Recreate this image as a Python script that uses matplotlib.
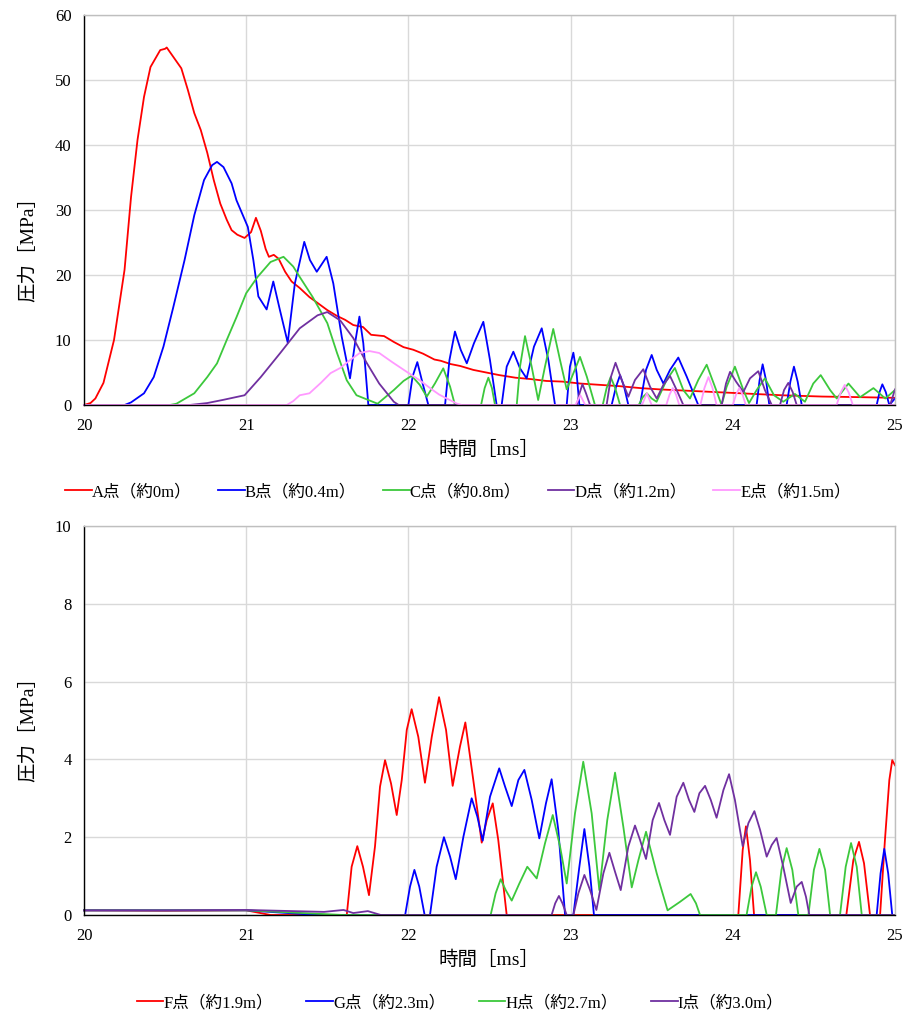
import matplotlib
matplotlib.use("Agg")
import matplotlib.pyplot as plt

# ---------------- data: (time [ms], pressure [MPa]) ----------------
A = [(20.00, 0), (20.04, 0.3), (20.07, 1.0), (20.12, 3.4), (20.185, 10), (20.25, 20.8), (20.29, 32),
     (20.33, 40.8), (20.37, 47.4), (20.41, 52), (20.47, 54.6), (20.50, 54.8), (20.51, 55),
     (20.555, 53.4), (20.60, 51.8), (20.64, 48.5), (20.68, 44.9), (20.72, 42.3), (20.76, 38.8),
     (20.80, 34.6), (20.84, 31), (20.88, 28.5), (20.91, 26.9), (20.945, 26.2), (20.99, 25.7),
     (21.03, 26.6), (21.06, 28.8), (21.09, 26.8), (21.12, 24), (21.14, 22.8), (21.17, 23.1),
     (21.20, 22.5), (21.24, 20.5), (21.28, 19), (21.33, 18), (21.39, 16.6), (21.44, 15.7),
     (21.50, 14.6), (21.56, 13.7), (21.61, 13.1), (21.66, 12.3), (21.72, 12), (21.77, 10.8),
     (21.85, 10.6), (21.91, 9.7), (21.97, 8.9), (22.03, 8.5), (22.09, 7.9), (22.16, 7.0),
     (22.20, 6.8), (22.26, 6.3), (22.32, 6.0), (22.40, 5.4), (22.48, 5.0), (22.56, 4.6),
     (22.66, 4.2), (22.75, 4.0), (22.85, 3.7), (22.95, 3.6), (23.06, 3.3), (23.18, 3.1),
     (23.30, 2.9), (23.43, 2.6), (23.55, 2.4), (23.80, 2.1), (24.05, 1.8), (24.30, 1.5),
     (24.55, 1.3), (24.80, 1.2), (25.00, 1.1)]

B = [(20.00, 0), (20.25, 0), (20.29, 0.4), (20.37, 1.8), (20.43, 4.3), (20.49, 9), (20.55, 15),
     (20.62, 22.3), (20.68, 29.2), (20.74, 34.6), (20.79, 36.9), (20.82, 37.4), (20.86, 36.6),
     (20.91, 34.1), (20.94, 31.5), (21.01, 27.4), (21.044, 22.3), (21.075, 16.7), (21.126, 14.7),
     (21.167, 19), (21.208, 14.6), (21.256, 9.6), (21.30, 18.7), (21.358, 25.1), (21.393, 22.3),
     (21.435, 20.5), (21.496, 22.8), (21.537, 18.7), (21.589, 10.5), (21.64, 4.1), (21.671, 9.5),
     (21.698, 13.6), (21.722, 9.5), (21.753, 0), (22.0, 0), (22.026, 4.4), (22.055, 6.6),
     (22.088, 3.3), (22.123, 0), (22.226, 0), (22.253, 6.9), (22.287, 11.3), (22.323, 8.46),
     (22.36, 6.41), (22.404, 9.49), (22.462, 12.8), (22.503, 6.9), (22.544, 0), (22.575, 0),
     (22.606, 5.9), (22.647, 8.2), (22.688, 5.64), (22.729, 4.1), (22.774, 8.97), (22.822, 11.8),
     (22.863, 6.9), (22.904, 0), (22.976, 0), (22.996, 5.9), (23.017, 8.05), (23.037, 4.87),
     (23.054, 0), (23.253, 0), (23.28, 2.8), (23.305, 4.6), (23.33, 2.8), (23.356, 0), (23.428, 0),
     (23.465, 5.4), (23.50, 7.7), (23.531, 5.4), (23.572, 3.3), (23.613, 5.4), (23.664, 7.3),
     (23.716, 4.36), (23.787, 0), (24.147, 0), (24.165, 3.8), (24.184, 6.26), (24.205, 3.8),
     (24.225, 0), (24.332, 0), (24.355, 3.6), (24.377, 5.9), (24.40, 3.6), (24.425, 0),
     (24.887, 0), (24.905, 2.0), (24.922, 3.18), (24.943, 2.0), (24.965, 0), (25.0, 1.0)]

C = [(20.00, 0), (20.53, 0), (20.57, 0.2), (20.68, 1.8), (20.76, 4.3), (20.82, 6.4), (20.88, 10),
     (20.94, 13.5), (21.00, 17.2), (21.07, 19.7), (21.15, 22), (21.23, 22.8), (21.29, 21.3),
     (21.33, 19.7), (21.41, 16.6), (21.50, 12.6), (21.56, 8), (21.62, 3.8), (21.68, 1.5),
     (21.74, 0.9), (21.81, 0.2), (21.91, 2.3), (21.97, 3.7), (22.02, 4.5), (22.07, 3.1),
     (22.113, 1.28), (22.164, 3.33), (22.215, 5.64), (22.257, 2.82), (22.287, 0), (22.448, 0),
     (22.47, 2.6), (22.493, 4.2), (22.515, 2.6), (22.534, 0), (22.668, 0), (22.688, 5.9),
     (22.719, 10.6), (22.76, 5.9), (22.80, 0.77), (22.842, 5.9), (22.893, 11.7), (22.935, 6.9),
     (22.976, 2.41), (23.017, 4.87), (23.058, 7.4), (23.10, 4.36), (23.15, 0), (23.198, 0),
     (23.222, 2.6), (23.247, 4.3), (23.275, 2.6), (23.305, 0), (23.42, 0), (23.445, 1.2),
     (23.47, 1.8), (23.50, 1.0), (23.53, 0.5), (23.592, 3.85), (23.643, 5.7), (23.695, 2.3),
     (23.736, 1.0), (23.787, 3.85), (23.839, 6.2), (23.89, 2.8), (23.931, 0), (23.962, 2.8),
     (24.013, 5.9), (24.065, 2.3), (24.10, 0.3), (24.147, 2.3), (24.198, 4.1), (24.254, 1.5),
     (24.311, 0.5), (24.383, 1.7), (24.445, 0.5), (24.496, 3.3), (24.542, 4.6), (24.60, 2.3),
     (24.641, 1.0), (24.713, 3.3), (24.785, 1.2), (24.867, 2.6), (24.94, 1.0), (25.0, 2.3)]

D = [(20.00, 0), (20.65, 0), (20.76, 0.3), (20.86, 0.8), (20.99, 1.5), (21.09, 4.3), (21.21, 8),
     (21.33, 11.8), (21.44, 13.8), (21.50, 14.3), (21.58, 13), (21.66, 10.3), (21.74, 6.6),
     (21.82, 3.3), (21.91, 0.5), (21.94, 0), (23.038, 0), (23.055, 1.8), (23.073, 3.2),
     (23.095, 1.8), (23.12, 0), (23.222, 0), (23.249, 4.36), (23.277, 6.5), (23.315, 3.85),
     (23.356, 1.28), (23.397, 3.85), (23.448, 5.5), (23.49, 2.8), (23.531, 1.0), (23.572, 3.1),
     (23.613, 4.46), (23.654, 2.3), (23.695, 0), (23.931, 0), (23.958, 3.3), (23.983, 5.1),
     (24.02, 3.6), (24.065, 2.0), (24.106, 4.1), (24.157, 5.2), (24.198, 2.3), (24.24, 0),
     (24.291, 0), (24.316, 2.3), (24.342, 3.4), (24.369, 2.0), (24.394, 0), (24.97, 0), (25.0, 2.4)]

E = [(20.00, 0), (21.25, 0), (21.29, 0.6), (21.33, 1.5), (21.39, 1.8), (21.46, 3.4), (21.52, 4.9),
     (21.58, 5.7), (21.64, 6.9), (21.70, 8), (21.76, 8.3), (21.82, 8), (21.90, 6.6), (21.99, 5.1),
     (22.07, 3.8), (22.15, 2.3), (22.19, 1.6), (22.30, 0.2), (22.33, 0), (23.03, 0), (23.06, 1.5),
     (23.09, 0), (23.44, 0), (23.47, 1.8), (23.50, 0), (23.59, 0), (23.61, 1.6), (23.63, 2.6),
     (23.65, 1.6), (23.67, 0), (23.80, 0), (23.825, 2.6), (23.85, 4.3), (23.875, 2.6), (23.90, 0),
     (24.00, 0), (24.02, 1.6), (24.04, 2.6), (24.06, 1.6), (24.08, 0), (24.64, 0), (24.665, 1.9),
     (24.69, 3.1), (24.715, 1.9), (24.74, 0), (25.0, 0)]

F = [(20.00, 0.12), (20.50, 0.11), (21.00, 0.12), (21.15, 0), (21.62, 0), (21.65, 1.24),
     (21.685, 1.77), (21.72, 1.24), (21.757, 0.51), (21.794, 1.76), (21.825, 3.30), (21.856, 3.98),
     (21.893, 3.38), (21.928, 2.57), (21.959, 3.47), (21.99, 4.76), (22.02, 5.29), (22.061, 4.58),
     (22.102, 3.40), (22.144, 4.58), (22.189, 5.60), (22.232, 4.76), (22.273, 3.32), (22.318, 4.33),
     (22.351, 4.95), (22.40, 3.47), (22.452, 1.86), (22.483, 2.44), (22.52, 2.87), (22.554, 1.93),
     (22.606, 0), (24.034, 0), (24.061, 1.67), (24.081, 2.28), (24.106, 1.41), (24.131, 0),
     (24.70, 0), (24.743, 1.41), (24.778, 1.88), (24.809, 1.33), (24.846, 0), (24.908, 0),
     (24.938, 1.93), (24.965, 3.47), (24.983, 3.98), (25.0, 3.85)]

G = [(20.00, 0.12), (20.50, 0.12), (21.00, 0.12), (21.44, 0), (21.98, 0), (22.01, 0.73),
     (22.037, 1.16), (22.067, 0.73), (22.10, 0), (22.133, 0), (22.174, 1.24), (22.219, 2.0),
     (22.257, 1.50), (22.292, 0.92), (22.339, 2.01), (22.39, 3.0), (22.425, 2.53), (22.458, 1.91),
     (22.503, 3.04), (22.56, 3.77), (22.596, 3.30), (22.637, 2.80), (22.678, 3.47), (22.715, 3.73),
     (22.76, 2.96), (22.807, 1.97), (22.848, 2.87), (22.883, 3.49), (22.924, 2.19), (22.966, 0),
     (23.017, 0), (23.054, 1.24), (23.085, 2.21), (23.116, 1.24), (23.144, 0), (24.887, 0),
     (24.911, 1.07), (24.934, 1.7), (24.958, 1.07), (24.983, 0), (25.0, 0)]

H = [(20.00, 0.12), (20.50, 0.12), (21.00, 0.12), (21.60, 0), (22.507, 0), (22.538, 0.56),
     (22.569, 0.92), (22.60, 0.64), (22.637, 0.37), (22.684, 0.81), (22.733, 1.24), (22.791, 0.94),
     (22.842, 1.84), (22.89, 2.57), (22.935, 1.76), (22.976, 0.81), (23.027, 2.61), (23.078, 3.94),
     (23.13, 2.61), (23.177, 0.64), (23.226, 2.44), (23.274, 3.66), (23.325, 2.27), (23.377, 0.71),
     (23.418, 1.41), (23.465, 2.14), (23.531, 1.07), (23.598, 0.12), (23.675, 0.34), (23.74, 0.54),
     (23.773, 0.30), (23.798, 0), (24.085, 0), (24.116, 0.73), (24.143, 1.1), (24.172, 0.73),
     (24.209, 0), (24.266, 0), (24.30, 1.16), (24.332, 1.72), (24.367, 1.16), (24.404, 0),
     (24.466, 0), (24.50, 1.16), (24.534, 1.70), (24.569, 1.16), (24.60, 0), (24.661, 0),
     (24.696, 1.24), (24.729, 1.85), (24.764, 1.24), (24.795, 0), (25.0, 0)]

I = [(20.00, 0.12), (20.50, 0.12), (21.00, 0.13), (21.48, 0.08), (21.60, 0.13), (21.66, 0.05),
     (21.75, 0.1), (21.83, 0), (22.883, 0), (22.905, 0.3), (22.928, 0.49), (22.95, 0.3),
     (22.976, 0), (23.017, 0), (23.048, 0.56), (23.085, 1.03), (23.12, 0.64), (23.159, 0.13),
     (23.202, 1.07), (23.239, 1.6), (23.274, 1.11), (23.309, 0.64), (23.356, 1.76), (23.397, 2.3),
     (23.428, 1.93), (23.465, 1.44), (23.506, 2.44), (23.545, 2.88), (23.578, 2.44), (23.613, 2.06),
     (23.654, 3.04), (23.695, 3.4), (23.73, 2.96), (23.763, 2.65), (23.794, 3.13), (23.829, 3.32),
     (23.864, 2.96), (23.90, 2.5), (23.942, 3.21), (23.977, 3.62), (24.013, 2.96), (24.061, 1.77),
     (24.096, 2.36), (24.133, 2.67), (24.168, 2.19), (24.209, 1.5), (24.24, 1.80), (24.27, 1.98),
     (24.311, 1.24), (24.357, 0.31), (24.394, 0.73), (24.425, 0.85), (24.451, 0.47), (24.472, 0),
     (25.0, 0)]

top_labels = ["A点（約0m）", "B点（約0.4m）", "C点（約0.8m）", "D点（約1.2m）", "E点（約1.5m）"]
bot_labels = ["F点（約1.9m）", "G点（約2.3m）", "H点（約2.7m）", "I点（約3.0m）"]
xlabel = "時間［ms］"
ylabel = "圧力［MPa］"
xticks = [20, 21, 22, 23, 24, 25]
top_yticks = [0, 10, 20, 30, 40, 50, 60]
bot_yticks = [0, 2, 4, 6, 8, 10]

# ---------------- style ----------------
FAM = ["Liberation Serif", "Noto Sans CJK JP", "DejaVu Sans"]
plt.rcParams["font.family"] = FAM
RED, BLUE, GREEN, PURPLE, PINK = "#ff0000", "#0000ff", "#3cc83c", "#7030a0", "#ff99ff"
LW = 1.3

fig = plt.figure(figsize=(9.06, 10.16), dpi=100)
W, Hpx = 906, 1016
def rect(l, t, r, b):
    return [l / W, 1 - b / Hpx, (r - l) / W, (b - t) / Hpx]

ax1 = fig.add_axes(rect(84, 15, 895, 405))
ax2 = fig.add_axes(rect(84, 526, 895, 915))

def style(ax, yticks):
    ax.set_xlim(20, 25)
    ax.set_ylim(yticks[0], yticks[-1])
    ax.set_xticks(xticks)
    ax.set_yticks(yticks)
    ax.grid(True, color="#d9d9d9", linewidth=1.0)
    ax.set_axisbelow(True)
    ax.tick_params(length=0, labelsize=12, pad=9)
    for s in ["top", "right"]:
        ax.spines[s].set_color("#bfbfbf")
        ax.spines[s].set_linewidth(1.0)
    for s in ["left", "bottom"]:
        ax.spines[s].set_color("black")
        ax.spines[s].set_linewidth(1.0)
    ax.set_xlabel(xlabel, fontsize=14, labelpad=5)

style(ax1, top_yticks)
style(ax2, bot_yticks)

def draw(ax, series, colors, labels):
    handles = []
    for s, c, lab in zip(series, colors, labels):
        t = [a for a, _ in s]
        p = [b for _, b in s]
        handles += ax.plot(t, p, color=c, linewidth=LW, label=lab, clip_on=False,
                           solid_joinstyle="round")
    return handles

l1 = draw(ax1, [A, B, C, D, E], [RED, BLUE, GREEN, PURPLE, PINK], top_labels)
l2 = draw(ax2, [F, G, H, I], [RED, BLUE, GREEN, PURPLE], bot_labels)

fig.text(28 / W, 1 - 245 / Hpx, ylabel, rotation=90, ha="center", va="center", fontsize=14)
fig.text(28 / W, 1 - 724 / Hpx, ylabel, rotation=90, ha="center", va="center", fontsize=14)

fig.legend(handles=l1, loc="center", bbox_to_anchor=(458 / W, 1 - 492 / Hpx), ncol=5,
           frameon=False, fontsize=12, handlelength=1.6, handletextpad=0.0, columnspacing=1.6)
fig.legend(handles=l2, loc="center", bbox_to_anchor=(460 / W, 1 - 1003 / Hpx), ncol=4,
           frameon=False, fontsize=12, handlelength=1.6, handletextpad=0.0, columnspacing=2.0)

fig.savefig("out.png", dpi=100)
